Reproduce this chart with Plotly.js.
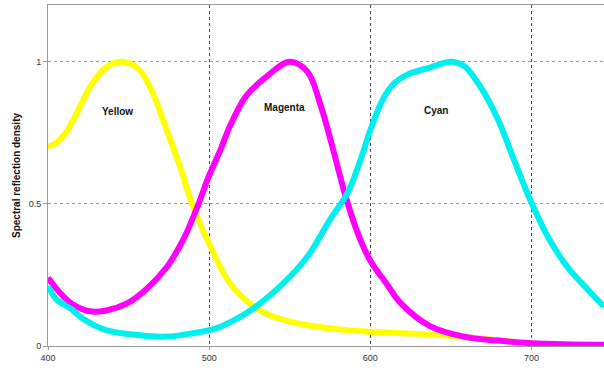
<!DOCTYPE html>
<html>
<head>
<meta charset="utf-8">
<script src="https://cdn.plot.ly/plotly-3.0.1.min.js"></script>
<style>
  html, body { margin: 0; padding: 0; background: #fff; }
  #chart { width: 604px; height: 368px; }
</style>
</head>
<body>
<div id="chart"></div>
<script>
// wavelength (nm) / density
var yellowX = [400, 405, 411, 418, 426, 436, 447, 457, 465, 473, 482, 490, 500, 513, 530, 548, 575, 600, 620, 640, 660, 680, 700, 720, 745];
var yellowY = [0.70, 0.715, 0.75, 0.82, 0.91, 0.98, 1.0, 0.97, 0.89, 0.77, 0.63, 0.49, 0.36, 0.22, 0.13, 0.088, 0.062, 0.05, 0.045, 0.04, 0.03, 0.02, 0.008, 0.003, 0.002];

var magentaX = [400, 407, 415, 426, 436, 449, 461, 474, 484, 492, 500, 507, 513, 523, 536, 550, 561, 569, 577, 584, 592, 600, 610, 619, 637, 658, 679, 700, 720, 745];
var magentaY = [0.24, 0.19, 0.148, 0.122, 0.125, 0.15, 0.2, 0.28, 0.375, 0.48, 0.6, 0.69, 0.775, 0.88, 0.95, 1.0, 0.965, 0.85, 0.69, 0.54, 0.40, 0.30, 0.22, 0.15, 0.07, 0.033, 0.019, 0.01, 0.006, 0.004];

var cyanX = [400, 405, 410, 414, 422, 436, 457, 474, 490, 500, 507, 523, 544, 561, 575, 586, 594, 600, 608, 614, 623, 637, 650, 658, 668, 679, 689, 700, 710, 722, 735, 745];
var cyanY = [0.21, 0.165, 0.145, 0.132, 0.095, 0.056, 0.038, 0.033, 0.045, 0.056, 0.068, 0.115, 0.21, 0.315, 0.445, 0.54, 0.656, 0.76, 0.87, 0.92, 0.955, 0.98, 1.0, 0.986, 0.915, 0.8, 0.657, 0.504, 0.386, 0.28, 0.198, 0.139];

var labels = ["Yellow", "Magenta", "Cyan"];
var labelX = [443, 547, 641];
var labelY = [0.826, 0.84, 0.83];

var xTicks = [400, 500, 600, 700];
var yTicks = [0, 0.5, 1];
var yTickText = ["0", "0.5", "1"];

function curve(x, y, color) {
  return {
    x: x,
    y: y,
    mode: "lines",
    line: { color: color, width: 6, shape: "spline", smoothing: 1 },
    hoverinfo: "skip",
    showlegend: false
  };
}

var traces = [
  curve(yellowX, yellowY, "#ffff00"),
  curve(magentaX, magentaY, "#ff00ff"),
  curve(cyanX, cyanY, "#00f0f0")
];

var notes = labels.map(function (t, i) {
  return {
    x: labelX[i],
    y: labelY[i],
    text: "<b>" + t + "</b>",
    showarrow: false,
    font: { family: "Liberation Sans, Arial, sans-serif", size: 10, color: "#111" }
  };
});

Plotly.newPlot("chart", traces, {
  width: 604,
  height: 368,
  margin: { l: 48, r: 0, t: 5, b: 22 },
  paper_bgcolor: "#fff",
  plot_bgcolor: "#fff",
  font: { family: "Liberation Sans, Arial, sans-serif", size: 9, color: "#333" },
  annotations: notes,
  xaxis: {
    range: [400, 745],
    tickvals: xTicks,
    ticks: "outside",
    ticklen: 3,
    tickcolor: "#999",
    showline: true,
    linecolor: "#999",
    linewidth: 1,
    mirror: true,
    showgrid: true,
    gridcolor: "#444",
    griddash: "3px,3px",
    gridwidth: 1,
    zeroline: false,
    fixedrange: true
  },
  yaxis: {
    range: [0, 1.2],
    tickvals: yTicks,
    ticktext: yTickText,
    ticks: "outside",
    ticklen: 4,
    tickcolor: "#999",
    showline: true,
    linecolor: "#999",
    linewidth: 1,
    showgrid: true,
    gridcolor: "#999",
    griddash: "3px,3px",
    gridwidth: 1,
    zeroline: false,
    fixedrange: true,
    title: {
      text: "<b>Spectral reflection density</b>",
      font: { size: 10, color: "#111" },
      standoff: 6
    }
  }
}, { displayModeBar: false, staticPlot: true });
</script>
</body>
</html>
